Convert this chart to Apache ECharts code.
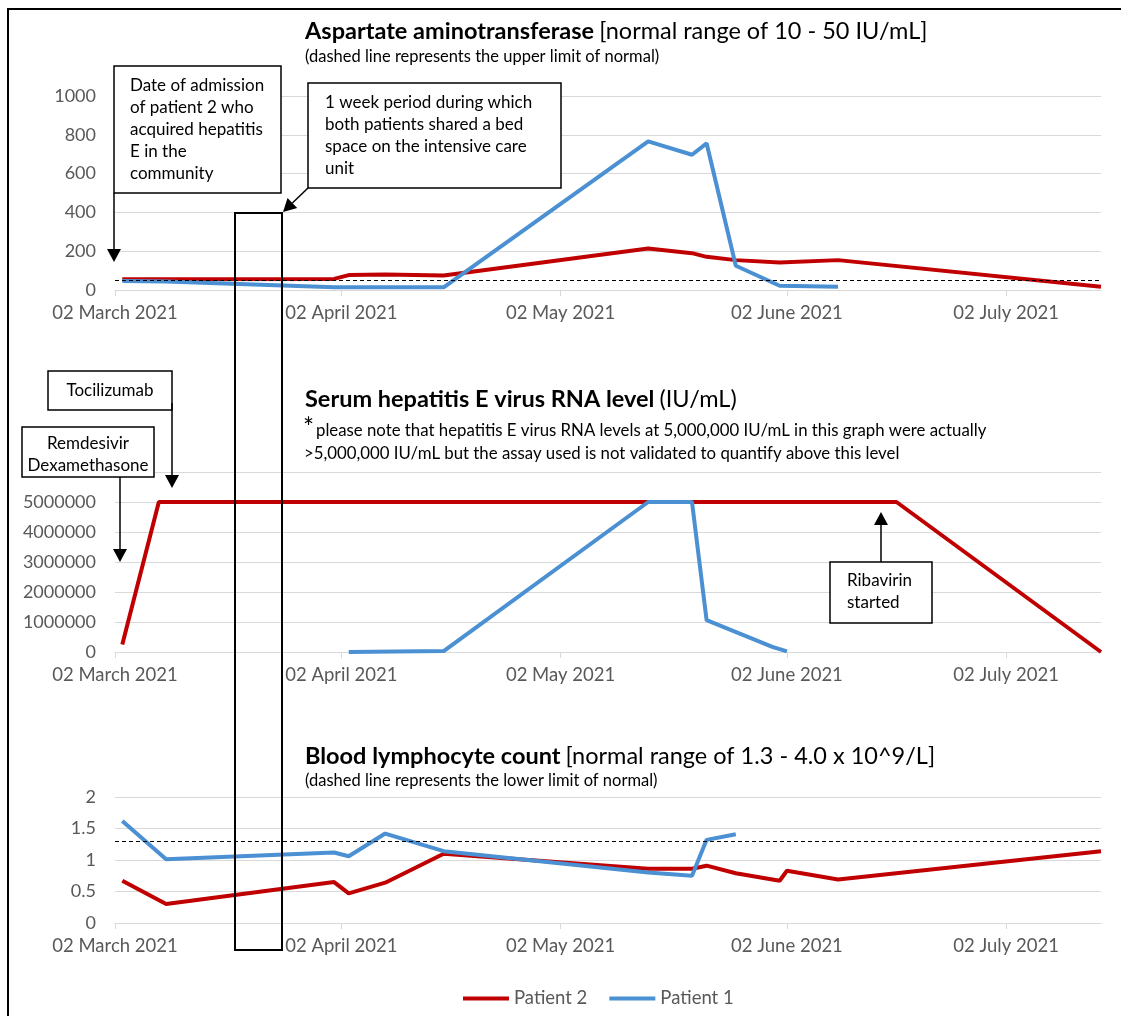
<!DOCTYPE html>
<html>
<head>
<meta charset="utf-8">
<script src="https://cdn.jsdelivr.net/npm/echarts@6/dist/echarts.min.js"></script>
<style>
  html, body { margin: 0; padding: 0; background: #fff; }
  #chart { width: 1121px; height: 1016px; }
</style>
</head>
<body>
<div id="chart"></div>
<script>
// x axis range and monthly tick labels
const axisStart = '2021-03-02';
const axisEnd = '2021-07-15';
const tickDates = ['2021-03-02', '2021-04-02', '2021-05-02', '2021-06-02', '2021-07-02'];

// Aspartate aminotransferase (IU/mL)
const astP2Dates = ['2021-03-03', '2021-04-01', '2021-04-03', '2021-04-08', '2021-04-16', '2021-05-14', '2021-05-20', '2021-05-22', '2021-05-26', '2021-06-01', '2021-06-09', '2021-07-15'];
const astP2Values = [55, 57, 77, 80, 75, 214, 190, 171, 154, 142, 154, 17];
const astP1Dates = ['2021-03-03', '2021-03-09', '2021-04-01', '2021-04-16', '2021-05-14', '2021-05-20', '2021-05-22', '2021-05-26', '2021-06-01', '2021-06-09'];
const astP1Values = [46, 44, 14, 14, 766, 697, 756, 125, 22, 17];
const astUpperLimit = 50;

// Serum HEV RNA (IU/mL)
const rnaP2Dates = ['2021-03-03', '2021-03-08', '2021-06-17', '2021-07-15'];
const rnaP2Values = [250000, 5000000, 5000000, 0];
const rnaP1Dates = ['2021-04-03', '2021-04-16', '2021-05-14', '2021-05-20', '2021-05-22', '2021-05-31', '2021-06-02'];
const rnaP1Values = [0, 30000, 5000000, 5000000, 1060000, 170000, 20000];

// Blood lymphocyte count (x10^9/L)
const lymP2Dates = ['2021-03-03', '2021-03-09', '2021-04-01', '2021-04-03', '2021-04-08', '2021-04-16', '2021-05-14', '2021-05-20', '2021-05-22', '2021-05-26', '2021-06-01', '2021-06-02', '2021-06-09', '2021-07-15'];
const lymP2Values = [0.67, 0.30, 0.65, 0.47, 0.64, 1.10, 0.86, 0.86, 0.91, 0.79, 0.67, 0.83, 0.69, 1.14];
const lymP1Dates = ['2021-03-03', '2021-03-09', '2021-04-01', '2021-04-03', '2021-04-08', '2021-04-16', '2021-05-14', '2021-05-20', '2021-05-22', '2021-05-26'];
const lymP1Values = [1.62, 1.01, 1.12, 1.06, 1.42, 1.14, 0.80, 0.75, 1.32, 1.41];
const lymLowerLimit = 1.3;

const RED = '#C00000';
const BLUE = '#4A90D2';
const FONT = 'Lato';
const monthNames = ['January', 'February', 'March', 'April', 'May', 'June', 'July', 'August', 'September', 'October', 'November', 'December'];

function ts(d) {
    const [y, m, dd] = d.split('-').map(Number);
    return Date.UTC(y, m - 1, dd);
}
function pairs(dates, values) {
    return dates.map((d, i) => [ts(d), values[i]]);
}
function fmtDate(v) {
    const d = new Date(v);
    return String(d.getUTCDate()).padStart(2, '0') + ' ' + monthNames[d.getUTCMonth()] + ' ' + d.getUTCFullYear();
}

const tickValues = tickDates.map(ts);

const chartDom = document.getElementById('chart');
const myChart = echarts.init(chartDom);

function xAxis(gridIndex) {
    return {
        type: 'value',
        gridIndex: gridIndex,
        min: ts(axisStart),
        max: ts(axisEnd),
        splitLine: { show: false },
        axisLine: { show: true, lineStyle: { color: '#D9D9D9', width: 1 } },
        axisTick: { show: true, length: 6, customValues: tickValues, lineStyle: { color: '#D9D9D9' } },
        axisLabel: { customValues: tickValues, formatter: fmtDate, color: '#595959', fontSize: 18.5, fontFamily: FONT, margin: 14 }
    };
}
function yAxis(gridIndex, max, interval, showMax) {
    return {
        type: 'value',
        gridIndex: gridIndex,
        min: 0,
        max: max,
        interval: interval,
        axisLine: { show: false },
        axisTick: { show: false },
        splitLine: { lineStyle: { color: '#D9D9D9', width: 1 } },
        axisLabel: { formatter: v => String(v), color: '#595959', fontSize: 18, fontFamily: FONT, margin: 19, showMaxLabel: showMax }
    };
}
function lineSeries(name, color, idx, data, limit) {
    const s = {
        name: name,
        type: 'line',
        xAxisIndex: idx,
        yAxisIndex: idx,
        data: data,
        symbol: 'none',
        lineStyle: { color: color, width: 4 },
        itemStyle: { color: color }
    };
    if (limit !== undefined) {
        s.markLine = {
            silent: true,
            symbol: 'none',
            label: { show: false },
            lineStyle: { color: '#000', width: 1, type: [4, 3] },
            data: [{ yAxis: limit }]
        };
    }
    return s;
}

// annotation helpers
function box(x, y, w, h, text, tx, ty, align) {
    return [
        { type: 'rect', shape: { x: x, y: y, width: w, height: h }, style: { fill: '#fff', stroke: '#000', lineWidth: 1.5 }, z: 20 },
        { type: 'text', x: tx, y: ty, style: { text: text, fill: '#000', fontSize: 17, fontFamily: FONT, lineHeight: 22, align: align || 'left', verticalAlign: 'top' }, z: 21 }
    ];
}
function arrow(x1, y1, x2, y2) {
    const a = Math.atan2(y2 - y1, x2 - x1);
    const len = 13, half = 7;
    const bx = x2 - len * Math.cos(a), by = y2 - len * Math.sin(a);
    const px = -Math.sin(a) * half, py = Math.cos(a) * half;
    return [
        { type: 'line', shape: { x1: x1, y1: y1, x2: bx, y2: by }, style: { stroke: '#000', lineWidth: 1.5 }, z: 20 },
        { type: 'polygon', shape: { points: [[x2, y2], [bx + px, by + py], [bx - px, by - py]] }, style: { fill: '#000' }, z: 20 }
    ];
}

const graphics = [].concat(
    [{ type: 'rect', shape: { x: 8, y: 9, width: 1300, height: 1200 }, style: { fill: 'none', stroke: '#000', lineWidth: 2 }, z: 30 }],
    box(114, 66, 167, 127, 'Date of admission\nof patient 2 who\nacquired hepatitis\nE in the\ncommunity', 130, 75),
    arrow(114, 193, 114, 262),
    box(308, 83, 253, 105, '1 week period during which\nboth patients shared a bed\nspace on the intensive care\nunit', 325, 92),
    arrow(308, 188, 283, 212),
    [{ type: 'rect', shape: { x: 235, y: 213, width: 47, height: 737 }, style: { fill: 'none', stroke: '#000', lineWidth: 2 }, z: 22 }],
    box(48, 371, 124, 39, 'Tocilizumab', 110, 380, 'center'),
    arrow(172, 403, 172, 488),
    box(22, 427, 132, 50, 'Remdesivir\nDexamethasone', 88, 433, 'center'),
    arrow(120, 477, 120, 562),
    box(830, 562, 102, 61, 'Ribavirin\nstarted', 847, 570),
    arrow(881, 562, 881, 512),
    [
        { type: 'text', x: 303, y: 416, style: { text: '*', fontSize: 26, fontFamily: FONT, fill: '#000' }, z: 10 },
        { type: 'text', x: 316, y: 422, style: { text: 'please note that hepatitis E virus RNA levels at 5,000,000 IU/mL in this graph were actually', fontSize: 16.8, fontFamily: FONT, fill: '#000' }, z: 10 },
        { type: 'text', x: 304, y: 445, style: { text: '>5,000,000 IU/mL but the assay used is not validated to quantify above this level', fontSize: 16.8, fontFamily: FONT, fill: '#000' }, z: 10 }
    ]
);

const richTitle = {
    b: { fontSize: 23.5, fontWeight: 'bold', fontFamily: FONT, color: '#000' },
    n: { fontSize: 23.5, fontWeight: 'normal', fontFamily: FONT, color: '#000' }
};
const subStyle = { fontSize: 16.5, fontFamily: FONT, color: '#000', fontWeight: 'normal' };

const option = {
    animation: false,
    backgroundColor: '#fff',
    title: [
        { left: 305, top: 19, padding: 0, text: '{b|Aspartate aminotransferase} {n|[normal range of 10 - 50 IU/mL]}', textStyle: { rich: richTitle } },
        { left: 305, top: 48, padding: 0, text: '(dashed line represents the upper limit of normal)', textStyle: subStyle },
        { left: 305, top: 387, padding: 0, text: '{b|Serum hepatitis E virus RNA level} {n|(IU/mL)}', textStyle: { rich: richTitle } },
        { left: 305, top: 744, padding: 0, text: '{b|Blood lymphocyte count} {n|[normal range of 1.3 - 4.0 x 10^9/L]}', textStyle: { rich: richTitle } },
        { left: 305, top: 772, padding: 0, text: '(dashed line represents the lower limit of normal)', textStyle: subStyle }
    ],
    legend: {
        data: ['Patient 2', 'Patient 1'],
        left: 458,
        top: 984,
        icon: 'rect',
        itemWidth: 46,
        itemHeight: 4,
        itemGap: 22,
        textStyle: { color: '#595959', fontSize: 18.5, fontFamily: FONT }
    },
    grid: [
        { left: 115, right: 20, top: 96, height: 194, outerBoundsMode: 'none' },
        { left: 115, right: 20, top: 472, height: 180, outerBoundsMode: 'none' },
        { left: 115, right: 20, top: 797, height: 126, outerBoundsMode: 'none' }
    ],
    xAxis: [xAxis(0), xAxis(1), xAxis(2)],
    yAxis: [
        yAxis(0, 1000, 200, true),
        yAxis(1, 6000000, 1000000, false),
        yAxis(2, 2, 0.5, true)
    ],
    series: [
        lineSeries('Patient 2', RED, 0, pairs(astP2Dates, astP2Values), astUpperLimit),
        lineSeries('Patient 1', BLUE, 0, pairs(astP1Dates, astP1Values)),
        lineSeries('Patient 2', RED, 1, pairs(rnaP2Dates, rnaP2Values)),
        lineSeries('Patient 1', BLUE, 1, pairs(rnaP1Dates, rnaP1Values)),
        lineSeries('Patient 2', RED, 2, pairs(lymP2Dates, lymP2Values), lymLowerLimit),
        lineSeries('Patient 1', BLUE, 2, pairs(lymP1Dates, lymP1Values))
    ],
    graphic: graphics
};

myChart.setOption(option);
</script>
</body>
</html>
